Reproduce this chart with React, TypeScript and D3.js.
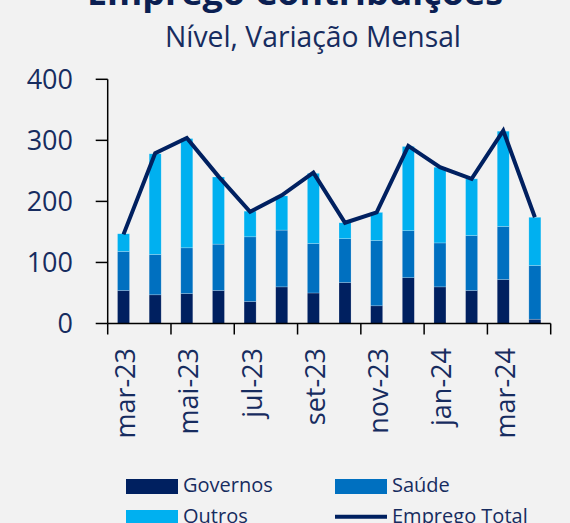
import React from "react";
import * as d3 from "d3";

const months = ["mar-23","abr-23","mai-23","jun-23","jul-23","ago-23","set-23","out-23","nov-23","dez-23","jan-24","fev-24","mar-24","abr-24"];
const governos = [54, 47, 49, 54, 36, 60, 50, 67, 29, 75, 60, 54, 72, 7];
const saude = [64, 66, 75, 76, 106, 93, 81, 72, 107, 77, 72, 90, 87, 88];
const outros = [29, 165, 179, 110, 42, 56, 115, 26, 46, 138, 124, 93, 156, 79];
const empregoTotal = [146, 279, 304, 241, 183, 210, 247, 165, 182, 291, 256, 237, 316, 174];
const yTicks = [0, 100, 200, 300, 400];
const seriesNames = ["Governos", "Saúde", "Outros"];
const colors = ["#002060", "#0070C0", "#00B0F0"];
const lineColor = "#002060";
const textColor = "#172c5f";
const FONT = "'Open Sans', sans-serif";

export default function App() {
  const W = 570, H = 523;
  const x0 = 107.7, x1 = 550.7;
  const yBase = 323.5, yTop = 79.3;
  const x = d3.scaleBand<string>().domain(months).range([x0, x1]).paddingInner(0.62).paddingOuter(0.31);
  const y = d3.scaleLinear().domain([0, 400]).range([yBase, yTop]);
  const table = months.map((m, i) => ({ m, Governos: governos[i], "Saúde": saude[i], Outros: outros[i] }));
  const stack = d3.stack<any>().keys(seriesNames)(table);
  const cx = (m: string) => (x(m) as number) + x.bandwidth() / 2;
  const line = d3.line<number>().x((_, i) => cx(months[i])).y((v) => y(v));
  const step = x.step();

  return (
    <svg width={W} height={H} style={{ position: "absolute", left: 0, top: 0 }} fontFamily={FONT}>
      <rect x={0} y={0} width={W} height={H} fill="#f2f2f2" />
      <text x={295} y={4.5} textAnchor="middle" fontSize={34} fontWeight={700} fill="#0b1f52" textLength={416} lengthAdjust="spacingAndGlyphs">Emprego Contribuições</text>
      <text x={313} y={46.7} textAnchor="middle" fontSize={30} fill={textColor} textLength={296} lengthAdjust="spacingAndGlyphs">Nível, Variação Mensal</text>

      {stack.map((s, si) => (
        <g key={si} fill={colors[si]}>
          {s.map((d, i) => (
            <rect key={i} x={x(months[i])} width={x.bandwidth()} y={y(d[1])} height={y(d[0]) - y(d[1])} stroke="rgba(255,255,255,0.35)" strokeWidth={0.6} />
          ))}
        </g>
      ))}

      <path d={line(empregoTotal) || ""} fill="none" stroke={lineColor} strokeWidth={4} strokeLinejoin="miter" />

      {/* Y axis */}
      <line x1={x0} x2={x0} y1={y(400)} y2={yBase} stroke="#000" strokeWidth={1.5} />
      {yTicks.map((t) => (
        <g key={t}>
          <line x1={x0 - 12} x2={x0} y1={y(t)} y2={y(t)} stroke="#000" strokeWidth={1.5} />
          <text x={73} y={y(t) + 9.7} textAnchor="end" fontSize={27} fill={textColor}>{t}</text>
        </g>
      ))}

      {/* X axis */}
      <line x1={x0} x2={x1} y1={yBase} y2={yBase} stroke="#000" strokeWidth={1.5} />
      {d3.range(0, months.length + 1, 2).map((k) => (
        <line key={k} x1={x0 + k * step} x2={x0 + k * step} y1={yBase} y2={yBase + 11} stroke="#000" strokeWidth={1.5} />
      ))}
      {months.map((m, i) => i % 2 === 0 ? (
        <text key={m} transform={`translate(${cx(m) + 11.5},348) rotate(-90)`} textAnchor="end" fontSize={27} fill={textColor}>{m}</text>
      ) : null)}

      {/* Legend */}
      <rect x={126} y={479} width={52} height={15} fill={colors[0]} />
      <text x={183} y={492} fontSize={20} fill={textColor}>Governos</text>
      <rect x={335} y={479} width={52} height={15} fill={colors[1]} />
      <text x={392} y={492} fontSize={20} fill={textColor}>Saúde</text>
      <rect x={126} y={510} width={52} height={15} fill={colors[2]} />
      <text x={183} y={523} fontSize={20} fill={textColor}>Outros</text>
      <line x1={335} x2={387} y1={516.7} y2={516.7} stroke={lineColor} strokeWidth={4} />
      <text x={392} y={523} fontSize={20} fill={textColor}>Emprego Total</text>
    </svg>
  );
}
